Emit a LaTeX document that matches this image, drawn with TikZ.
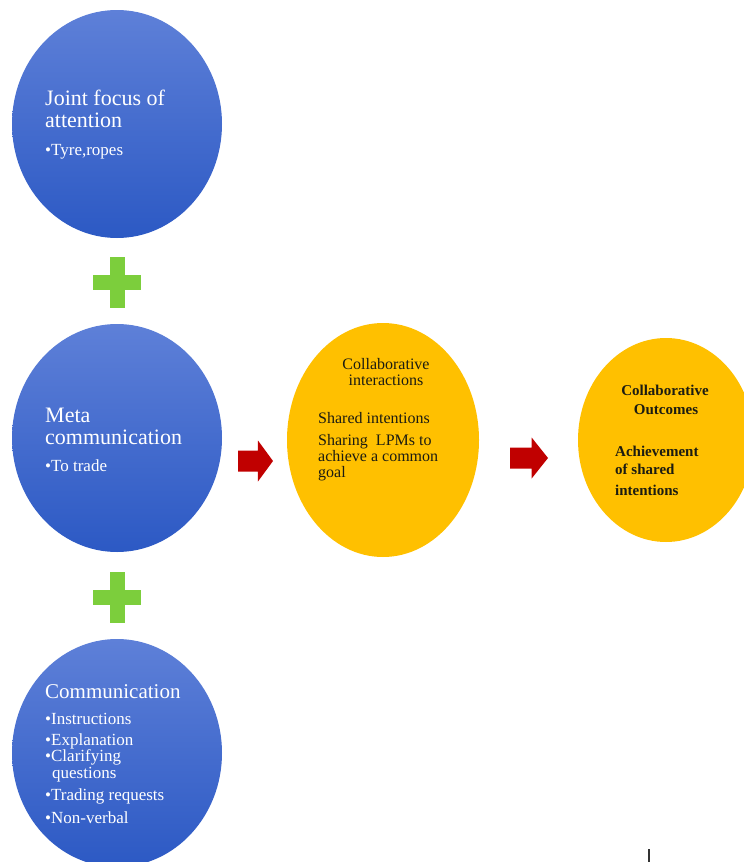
\documentclass[tikz,border=0pt]{standalone}
\usepackage{fontspec}
\setmainfont{Liberation Serif}
\usetikzlibrary{shapes.geometric}
\definecolor{bluetop}{RGB}{94,128,216}
\definecolor{bluebot}{RGB}{44,89,196}
\definecolor{gold}{RGB}{255,192,0}
\definecolor{darkred}{RGB}{192,0,0}
\definecolor{plusgreen}{RGB}{124,206,60}
\definecolor{ink}{RGB}{28,28,18}
\begin{document}
\begin{tikzpicture}[x=1pt,y=-1pt,
  bluecircle/.style={ellipse, inner sep=0pt, draw=none,
    minimum width=210pt, minimum height=228pt,
    top color=bluetop, bottom color=bluebot},
  goldoval/.style={ellipse, inner sep=0pt, draw=none, fill=gold},
  headtxt/.style={anchor=base west, inner sep=0pt, text=white,
    font=\fontsize{22}{23}\selectfont},
  bullettxt/.style={anchor=base west, inner sep=0pt, text=white,
    font=\fontsize{17}{18}\selectfont},
  goldtxt/.style={inner sep=0pt, text=ink,
    font=\fontsize{16}{16}\selectfont},
  boldtxt/.style={inner sep=0pt, text=ink,
    font=\fontsize{15}{15}\selectfont\bfseries},
  plussign/.style={fill=plusgreen},
  blockarrow/.style={fill=darkred}]

\useasboundingbox (0,0) rectangle (744,862);
\clip (0,0) rectangle (744,862);

% three stacked blue circles
\node[bluecircle] (focus) at (117,124) {};
\node[bluecircle] (meta)  at (117,438) {};
\node[bluecircle] (comm)  at (117,753) {};

% the two collaborative ovals
\node[goldoval, minimum width=192pt, minimum height=234pt] (inter) at (383,440) {};
\node[goldoval, minimum width=176pt, minimum height=204pt] (outc)  at (666,440) {};

% green plus signs between the circles
\coordinate (p1) at (117,282);
\coordinate (p2) at (117,597);
\foreach \c in {p1,p2}{
  \fill[plussign] ([xshift=-24pt,yshift=7.5pt]\c) rectangle ([xshift=24pt,yshift=-7.5pt]\c);
  \fill[plussign] ([xshift=-7.5pt,yshift=25.5pt]\c) rectangle ([xshift=7.5pt,yshift=-25.5pt]\c);
}

% red block arrows
\coordinate (a1) at (238,440);
\coordinate (a2) at (510,437);
\foreach \c/\len in {a1/35,a2/38}{
  \fill[blockarrow] ([yshift=-10.5pt]\c) -- ++(\len*0.57,0) -- ++(0,-10)
     -- ++(\len*0.43,20.5) -- ++(-\len*0.43,20.5) -- ++(0,-10)
     -- ++(-\len*0.57,0) -- cycle;
}

% texts of the first circle
\node[headtxt] (t1a) at (45,105) {Joint focus of};
\node[headtxt] (t1b) at (45,127) {attention};
\node[bullettxt] (t1c) at (45,155) {\textbullet Tyre,ropes};

% texts of the second circle
\node[headtxt] (t2a) at (45,422) {Meta};
\node[headtxt] (t2b) at (45,444) {communication};
\node[bullettxt] (t2c) at (45,471) {\textbullet To trade};

% texts of the third circle
\node[headtxt, font=\fontsize{21}{22}\selectfont] (t3a) at (45,698) {Communication};
\node[bullettxt] (t3b) at (45,724) {\textbullet Instructions};
\node[bullettxt] (t3c) at (45,745) {\textbullet Explanation};
\node[bullettxt] (t3d) at (45,761) {\textbullet Clarifying};
\node[bullettxt] (t3e) at (52,778) {questions};
\node[bullettxt] (t3f) at (45,800) {\textbullet Trading requests};
\node[bullettxt] (t3g) at (45,823) {\textbullet Non-verbal};

% texts of the first oval
\node[goldtxt, anchor=base] (y1a) at (386,369) {Collaborative};
\node[goldtxt, anchor=base] (y1b) at (386,385) {interactions};
\node[goldtxt, anchor=base west] (y1c) at (318,423) {Shared intentions};
\node[goldtxt, anchor=base west] (y1d) at (318,445) {Sharing\ \ LPMs to};
\node[goldtxt, anchor=base west] (y1e) at (318,461) {achieve a common};
\node[goldtxt, anchor=base west] (y1f) at (318,477) {goal};

% texts of the second oval
\node[boldtxt, anchor=base] (y2a) at (665,395) {Collaborative};
\node[boldtxt, anchor=base] (y2b) at (666,414) {Outcomes};
\node[boldtxt, anchor=base west] (y2c) at (615,456) {Achievement};
\node[boldtxt, anchor=base west] (y2d) at (615,474) {of shared};
\node[boldtxt, anchor=base west] (y2e) at (615,495) {intentions};

% small mark at the bottom edge
\coordinate (m1) at (649,849);
\coordinate (m2) at (649,862);
\draw[line width=1.6pt, color=black!80] (m1) -- (m2);
\end{tikzpicture}
\end{document}
